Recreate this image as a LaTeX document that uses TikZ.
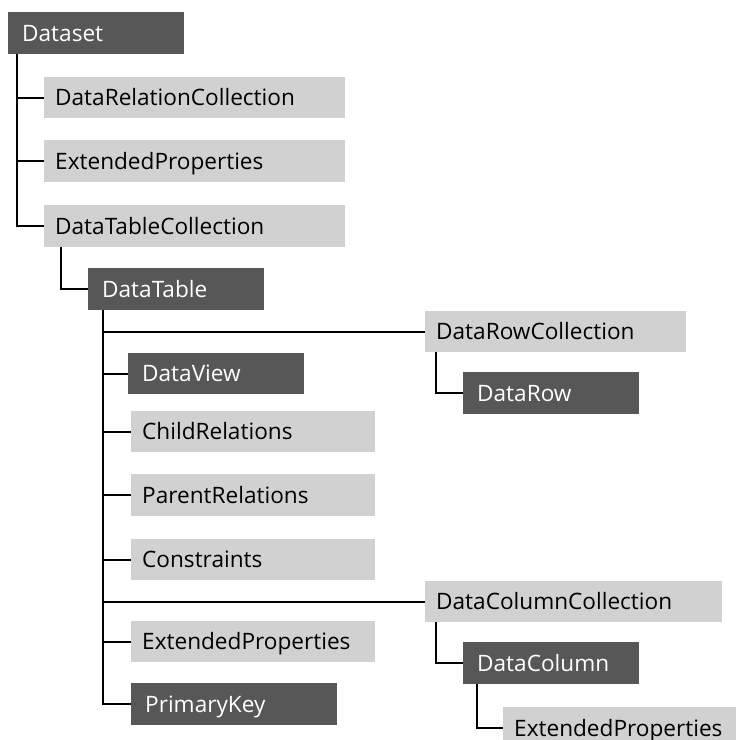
\documentclass[tikz,border=0pt]{standalone}
\usepackage{fontspec}
\setmainfont{Open Sans}
\definecolor{boxdark}{HTML}{575757}
\definecolor{boxlight}{HTML}{D1D1D1}
\begin{document}
\begin{tikzpicture}[x=1pt,y=-1pt,
  every node/.style={font=\fontsize{22.6}{24}\selectfont},
  base/.style={anchor=north west, minimum height=42pt, inner ysep=0pt,
    text height=16pt, text depth=0pt, align=left},
  dark/.style={base, fill=boxdark, text=white, inner xsep=14pt},
  light/.style={base, fill=boxlight, text=black, inner xsep=11pt},
  link/.style={draw=black, line width=1.6pt}]
\useasboundingbox (0,0) rectangle (736,740);
\clip (0,0) rectangle (736,740);

% DataSet and its direct members
\node[dark, text width=148pt] (dataset) at (8,12) {Dataset};
\node[light, text width=279pt, minimum height=41pt] (drc) at (44,77) {DataRelationCollection};
\node[light, text width=279pt] (ep1) at (44,140) {ExtendedProperties};
\node[light, text width=279pt] (dtc) at (44,205) {DataTableCollection};

% DataTable and its members
\node[dark, text width=148pt] (dt) at (88,268) {DataTable};
\node[light, text width=239pt, minimum height=41pt] (drowc) at (425,311) {DataRowCollection};
\node[dark, text width=148pt] (drow) at (463,372) {DataRow};
\node[dark, text width=148pt, minimum height=41pt] (dv) at (128,353) {DataView};
\node[light, text width=222pt, minimum height=41pt] (cr) at (131,411) {ChildRelations};
\node[light, text width=222pt] (pr) at (131,474) {ParentRelations};
\node[light, text width=222pt, minimum height=41pt] (con) at (131,539) {Constraints};
\node[light, text width=275pt, minimum height=41pt] (dcc) at (425,581) {DataColumnCollection};
\node[light, text width=222pt, minimum height=41pt] (ep2) at (131,621) {ExtendedProperties};
\node[dark, text width=178pt] (pk) at (131,683) {PrimaryKey};
\node[dark, text width=148pt] (dcol) at (463,642) {DataColumn};
\node[light, text width=211pt] (ep3) at (503,707) {ExtendedProperties};

% tree trunks
\coordinate (t0) at (17,54);
\coordinate (t1) at (61,247);
\coordinate (t2) at (103,310);
\coordinate (t3) at (436,352);
\coordinate (t4) at (436,622);
\coordinate (t5) at (477,684);

\draw[link] (t0) |- (dtc.west);
\draw[link] (t0 |- drc.west) -- (drc.west);
\draw[link] (t0 |- ep1.west) -- (ep1.west);

\draw[link] (t1) |- (dt.west);

\draw[link] (t2) |- (pk.west);
\foreach \n in {drowc,dv,cr,pr,con,dcc,ep2}
  \draw[link] (t2 |- \n.west) -- (\n.west);

\draw[link] (t3) |- (drow.west);
\draw[link] (t4) |- (dcol.west);
\draw[link] (t5) |- (ep3.west);
\end{tikzpicture}
\end{document}
